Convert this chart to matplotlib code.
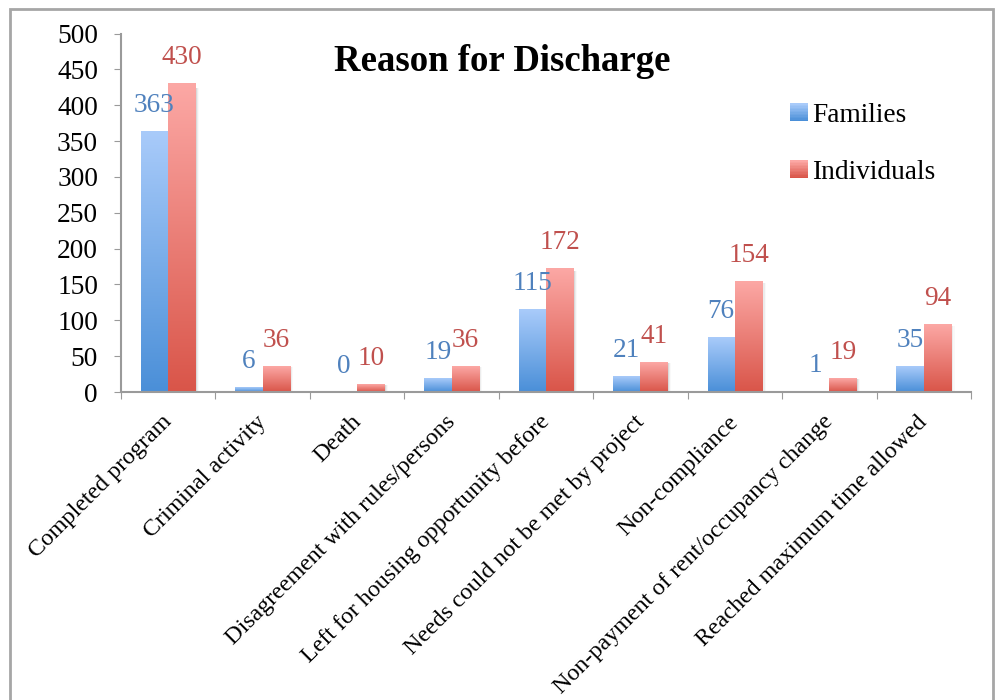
import numpy as np
import matplotlib
matplotlib.use('Agg')
import matplotlib.pyplot as plt
from matplotlib.colors import LinearSegmentedColormap
from matplotlib.patches import Rectangle
from matplotlib.legend_handler import HandlerBase
from matplotlib.transforms import ScaledTranslation

categories = ['Completed program', 'Criminal activity', 'Death',
              'Disagreement with rules/persons', 'Left for housing opportunity before',
              'Needs could not be met by project', 'Non-compliance',
              'Non-payment of rent/occupancy change', 'Reached maximum time allowed']
families = [363, 6, 0, 19, 115, 21, 76, 1, 35]
individuals = [430, 36, 10, 36, 172, 41, 154, 19, 94]
series_names = ['Families', 'Individuals']

blue_grad = ['#4a8fd8', '#a9cbfa']
red_grad = ['#d95549', '#fca8a5']
blue_text = '#4f81bd'
red_text = '#c0504d'
axis_gray = '#9a9a9a'

plt.rcParams['font.family'] = ['Liberation Serif', 'DejaVu Serif']


def gradient_bars(ax, rects, colors):
    cmap = LinearSegmentedColormap.from_list('g', colors)
    grad = np.linspace(0, 1, 256).reshape(-1, 1)
    for r in rects:
        x0, y0 = r.get_x(), r.get_y()
        w, h = r.get_width(), r.get_height()
        if h <= 0:
            continue
        # soft shadow on the right edge
        for k, a in enumerate((0.08, 0.05, 0.025)):
            ax.add_patch(Rectangle((x0 + w, y0), 0.012 * (k + 1), h * 0.985,
                                   facecolor='black', alpha=a, lw=0, zorder=1))
        ax.imshow(grad, cmap=cmap, origin='lower', aspect='auto',
                  extent=(x0, x0 + w, y0, y0 + h), interpolation='bicubic', zorder=2)


class GradientHandler(HandlerBase):
    def __init__(self, colors):
        super().__init__()
        self.colors = colors

    def create_artists(self, legend, orig_handle, xdescent, ydescent, width,
                       height, fontsize, trans):
        cmap = LinearSegmentedColormap.from_list('g', self.colors)
        n = 12
        side = height * 0.95
        x0 = width - side
        y0 = -ydescent + (height - side) / 2
        arts = []
        for i in range(n):
            arts.append(Rectangle((x0, y0 + side * i / n), side, side / n + 0.3,
                                  facecolor=cmap(i / (n - 1)), lw=0, transform=trans))
        return arts


fig = plt.figure(figsize=(9.98, 7.0), dpi=100)
ax = fig.add_axes([121 / 998, 1 - 392 / 700, 850 / 998, (392 - 33.5) / 700])

x = np.arange(len(categories))
bw = 0.29
fam_bars = ax.bar(x - bw / 2, families, bw, color='none', lw=0)
ind_bars = ax.bar(x + bw / 2, individuals, bw, color='none', lw=0)
gradient_bars(ax, fam_bars, blue_grad)
gradient_bars(ax, ind_bars, red_grad)

for bars, vals, col in ((fam_bars, families, blue_text), (ind_bars, individuals, red_text)):
    for r, v in zip(bars, vals):
        ax.annotate(str(v), (r.get_x() + r.get_width() / 2, v), xytext=(0, 14),
                    textcoords='offset points', ha='center', va='baseline',
                    fontsize=19.6, color=col)

ax.set_xlim(-0.5, len(categories) - 0.5)
ax.set_ylim(0, 500)
ax.set_yticks(np.arange(0, 501, 50))
ax.tick_params(axis='y', labelsize=19.7, length=5, color=axis_gray, pad=11.5)

ax.set_xticks(np.arange(len(categories) + 1) - 0.5)
ax.set_xticklabels([])
ax.set_xticks(x, minor=True)
ax.set_xticklabels(categories, minor=True, rotation=45, ha='right',
                   rotation_mode='anchor', fontsize=17.3)
ax.tick_params(axis='x', which='major', length=5, color=axis_gray)
ax.tick_params(axis='x', which='minor', length=0, pad=14)
shift = ScaledTranslation(-5 / 72, 0, fig.dpi_scale_trans)
for lab in ax.get_xticklabels(minor=True):
    lab.set_transform(lab.get_transform() + shift)

for side in ('top', 'right'):
    ax.spines[side].set_visible(False)
for side in ('left', 'bottom'):
    ax.spines[side].set_color(axis_gray)
    ax.spines[side].set_linewidth(1.5)

fig.text(0.503, 0.912, 'Reason for Discharge', ha='center', va='center',
         fontsize=26.5, fontweight='bold')

h1 = Rectangle((0, 0), 1, 1)
h2 = Rectangle((0, 0), 1, 1)
ax.legend([h1, h2], series_names, loc='upper left', bbox_to_anchor=(774 / 998, 1 - 89 / 700),
          bbox_transform=fig.transFigure, frameon=False, fontsize=19.7,
          handler_map={h1: GradientHandler(blue_grad), h2: GradientHandler(red_grad)},
          handlelength=0.75, handletextpad=0.13, labelspacing=1.16, borderpad=0)

fig.patches.append(Rectangle((10 / 998, -0.05), 983 / 998, 1.05 - 9 / 700,
                             transform=fig.transFigure, fill=False,
                             edgecolor='#a6a6a6', lw=2, clip_on=False))

fig.savefig('out.png', dpi=100)
